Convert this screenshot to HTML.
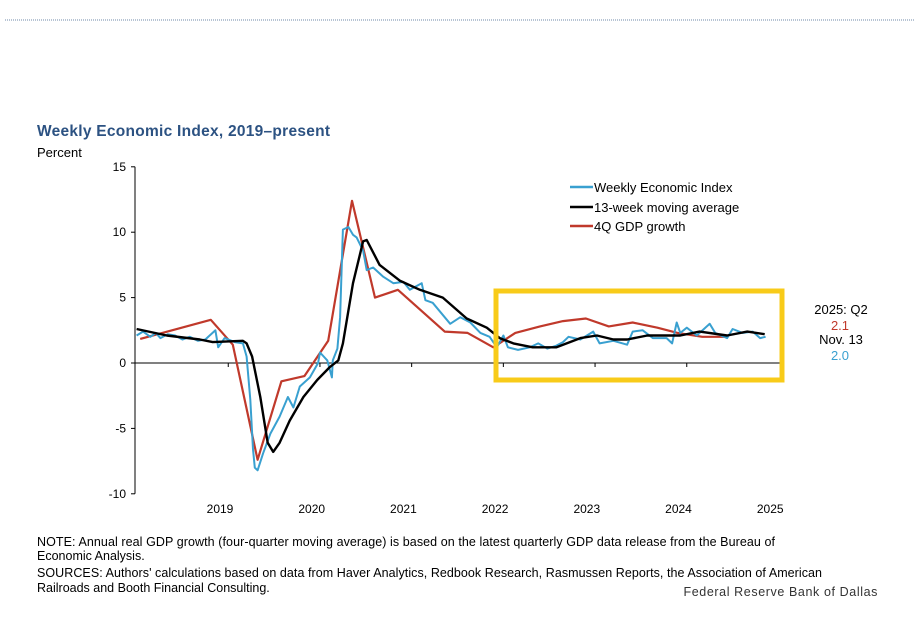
<!DOCTYPE html>
<html><head><meta charset="utf-8"><style>
body{margin:0;background:#fff;width:923px;height:639px;overflow:hidden;font-family:"Liberation Sans",sans-serif}
svg{display:block}
</style></head><body>
<svg id="c" width="923" height="639">
<line x1="5" y1="20" x2="915" y2="20" stroke="#6f8aa8" stroke-width="1" stroke-dasharray="1,1"/>
<text x="37" y="136" font-size="15.5" font-weight="bold" fill="#2c5282" textLength="293">Weekly Economic Index, 2019–present</text>
<text x="37" y="157" font-size="13" fill="#000">Percent</text>
<g id="axes"></g>
<g id="series"></g>
<rect x="496" y="291" width="286" height="89" fill="none" stroke="#f8cb19" stroke-width="5"/>
<g font-size="13">
<g><line x1="570" y1="187" x2="593" y2="187" stroke="#39a0d0" stroke-width="2.5"/><text x="594" y="192">Weekly Economic Index</text></g>
<g><line x1="570" y1="207" x2="593" y2="207" stroke="#000" stroke-width="2.5"/><text x="594" y="212">13-week moving average</text></g>
<g><line x1="570" y1="226" x2="593" y2="226" stroke="#c0392b" stroke-width="2.5"/><text x="594" y="231">4Q GDP growth</text></g>
</g>
<g font-size="13" text-anchor="middle">
<text x="841" y="314">2025: Q2</text>
<text x="840" y="330" fill="#c0392b">2.1</text>
<text x="841" y="344">Nov. 13</text>
<text x="840" y="360" fill="#39a0d0">2.0</text>
</g>
<g font-size="12.5" fill="#000">
<text x="37" y="546" textLength="738">NOTE: Annual real GDP growth (four-quarter moving average) is based on the latest quarterly GDP data release from the Bureau of</text>
<text x="37" y="560">Economic Analysis.</text>
<text x="37" y="577" textLength="785">SOURCES: Authors' calculations based on data from Haver Analytics, Redbook Research, Rasmussen Reports, the Association of American</text>
<text x="37" y="592">Railroads and Booth Financial Consulting.</text>
</g>
<text x="878" y="596" text-anchor="end" font-size="12.5" fill="#333" letter-spacing="0.6">Federal Reserve Bank of Dallas</text>
</svg>
<script>
const yTicks=[15,10,5,0,-5,-10];
const yTickLabels=["15","10","5","0","-5","-10"];
const xYears=[2019,2020,2021,2022,2023,2024,2025];
const xTickLabels=["2019","2020","2021","2022","2023","2024","2025"];
const gdpDates=[2018.13,2018.90,2019.14,2019.41,2019.67,2019.92,2020.18,2020.44,2020.69,2020.94,2021.45,2021.70,2021.98,2022.22,2022.49,2022.74,2022.99,2023.24,2023.50,2023.77,2023.99,2024.26,2024.52];
const gdpValues=[1.84,3.3,1.4,-7.4,-1.4,-1.0,1.7,12.4,5.0,5.6,2.4,2.3,1.2,2.3,2.8,3.2,3.4,2.8,3.1,2.7,2.3,2.0,2.0];
const maDates=[2018.09,2018.42,2018.78,2018.92,2019.25,2019.29,2019.35,2019.44,2019.52,2019.58,2019.65,2019.76,2019.91,2020.06,2020.20,2020.29,2020.34,2020.45,2020.56,2020.60,2020.74,2020.96,2021.18,2021.43,2021.69,2021.91,2022.05,2022.20,2022.41,2022.67,2022.93,2023.11,2023.29,2023.44,2023.66,2024.02,2024.23,2024.53,2024.75,2024.94];
const maValues=[2.6,2.1,1.8,1.6,1.7,1.5,0.5,-2.6,-6.1,-6.8,-6.1,-4.4,-2.6,-1.3,-0.3,0.2,1.5,6.1,9.3,9.4,7.5,6.3,5.6,5.0,3.4,2.7,1.9,1.5,1.2,1.2,1.9,2.1,1.8,1.8,2.1,2.1,2.4,2.1,2.4,2.2];
const weiDates=[2018.09,2018.16,2018.24,2018.30,2018.35,2018.43,2018.51,2018.59,2018.67,2018.76,2018.84,2018.95,2018.98,2019.05,2019.16,2019.25,2019.29,2019.33,2019.36,2019.38,2019.41,2019.47,2019.55,2019.65,2019.74,2019.80,2019.87,2019.98,2020.07,2020.09,2020.17,2020.22,2020.23,2020.28,2020.31,2020.34,2020.40,2020.45,2020.49,2020.56,2020.60,2020.67,2020.78,2020.89,2021.00,2021.07,2021.20,2021.24,2021.32,2021.51,2021.62,2021.73,2021.84,2021.94,2022.02,2022.09,2022.14,2022.25,2022.38,2022.47,2022.57,2022.66,2022.74,2022.80,2022.93,2023.07,2023.14,2023.29,2023.44,2023.50,2023.61,2023.72,2023.87,2023.93,2023.98,2024.02,2024.09,2024.20,2024.34,2024.40,2024.53,2024.59,2024.70,2024.81,2024.89,2024.95];
const weiValues=[2.1,2.4,2.0,2.3,1.9,2.2,2.1,1.8,2.0,1.7,1.8,2.5,1.2,1.9,1.6,1.5,0.5,-2.8,-6.6,-8.0,-8.2,-6.9,-5.4,-4.1,-2.6,-3.4,-1.8,-1.1,0.0,0.8,0.2,-1.1,0.2,1.1,3.5,10.2,10.4,9.8,9.6,8.6,7.1,7.3,6.6,6.1,6.2,5.6,6.1,4.8,4.6,3.0,3.5,3.1,2.3,2.0,1.2,2.1,1.2,1.0,1.2,1.5,1.1,1.3,1.6,2.0,1.8,2.4,1.5,1.7,1.4,2.4,2.5,1.9,1.9,1.5,3.1,2.3,2.7,2.1,3.0,2.3,1.9,2.6,2.3,2.4,1.9,2.0];

const NS="http://www.w3.org/2000/svg";
function xs(v){return 220+(v-2019)*91.7;}
function ys(v){return 363-v*13.08;}
function mk(tag,attrs,parent){const e=document.createElementNS(NS,tag);for(const k in attrs)e.setAttribute(k,attrs[k]);parent.appendChild(e);return e;}
const axes=document.getElementById('axes'),series=document.getElementById('series');
let e=mk('line',{x1:135,y1:ys(15),x2:135,y2:ys(-10),stroke:'#000','stroke-width':1},axes);


yTicks.forEach((t,i)=>{
  let l=mk('line',{x1:131,y1:ys(t),x2:135,y2:ys(t),stroke:'#000'},axes);
  
  
  let tx=mk('text',{x:126,y:ys(t)+4,'text-anchor':'end','font-size':12,fill:'#000'},axes);tx.textContent=yTickLabels[i];
  
  
});
e=mk('line',{x1:135,y1:ys(0),x2:783,y2:ys(0),stroke:'#000','stroke-width':1},axes);


xYears.forEach((y,i)=>{
  if(i<xYears.length-1){let l=mk('line',{x1:xs(y+0.09),y1:ys(0),x2:xs(y+0.09),y2:ys(0)+4,stroke:'#000'},axes);
  
  }
  let tx=mk('text',{x:xs(y),y:513,'text-anchor':'middle','font-size':12,fill:'#000'},axes);tx.textContent=xTickLabels[i];
  
  
});
function line(d,v,color,w,name){
  const p=d.map((x,i)=>(i?'L':'M')+xs(x).toFixed(1)+','+ys(v[i]).toFixed(1)).join('');
  const el=mk('path',{d:p,fill:'none',stroke:color,'stroke-width':w,'stroke-linejoin':'round'},series);
  
  
}
line(gdpDates,gdpValues,'#c0392b',2.2,'gdp-growth-line');
line(weiDates,weiValues,'#39a0d0',2,'wei-line');
line(maDates,maValues,'#000',2.4,'moving-average-line');
</script>
</body></html>
